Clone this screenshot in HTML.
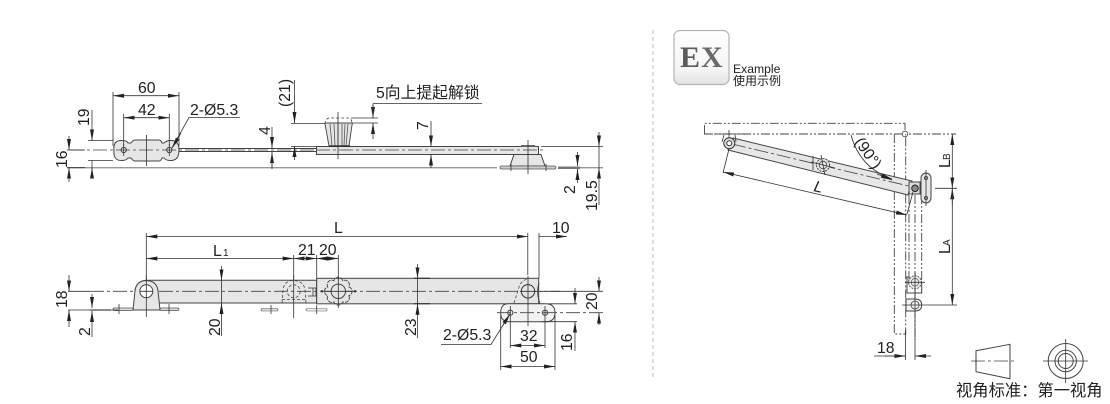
<!DOCTYPE html>
<html><head><meta charset="utf-8">
<style>
html,body{margin:0;padding:0;background:#fff;width:1110px;height:404px;overflow:hidden}
svg{display:block}
text{font-family:"Liberation Sans","Noto Sans CJK SC",sans-serif;fill:#222;font-size:15.8px}
.s{font-size:10px}
.d{stroke:#333;stroke-width:.8;fill:none}
.o{stroke:#444;stroke-width:1;fill:none}
.b{stroke:#444;stroke-width:1;fill:#e6e6e6}
.c{stroke:#444;stroke-width:.8;fill:none;stroke-dasharray:14 3 3 3}
.h{stroke:#444;stroke-width:.8;fill:none;stroke-dasharray:3 2}
.p{stroke:#444;stroke-width:.9;fill:none;stroke-dasharray:9 2 2 2 2 2}
.g{stroke:#999;stroke-width:1.4;fill:none}
.a{stroke:#333;stroke-width:.8;fill:none;marker-end:url(#m)}
.aa{stroke:#333;stroke-width:.8;fill:none;marker-start:url(#m);marker-end:url(#m)}
</style></head><body>
<svg width="1110" height="404" viewBox="0 0 1110 404" xmlns="http://www.w3.org/2000/svg">
<defs>
<marker id="m" markerUnits="userSpaceOnUse" markerWidth="12" markerHeight="6" refX="11" refY="2.5" orient="auto-start-reverse"><path d="M0,.5 L11,2.5 L0,4.500z" fill="#222"/></marker>
<linearGradient id="ex" x1="0" y1="0" x2="0" y2="1"><stop offset="0" stop-color="#fff"/><stop offset=".75" stop-color="#f4f4f4"/><stop offset="1" stop-color="#e2e2e2"/></linearGradient>
<clipPath id="exc"><rect x="675" y="31" width="53" height="53" rx="6"/></clipPath>
</defs>

<!-- ===== TOP VIEW ===== -->
<path class="g" d="M67 167.700H497M500 167.700H556M558 167.700H603"/>
<path d="M179 148.500H316M179 151.500H316" class="o"/>
<path d="M114 150 Q113 140 122 140.500 Q127 140.500 128 143 H131 Q133 140 135 140 H159 Q161 140 162 143 H164 Q167 140.500 170 140.500 Q179 140 179 150 Q179 161 170 160.500 Q166 160.500 164 158 H162 Q161 161 159 161 H135 Q133 161 131 158 H128 Q126 160.500 122 160.500 Q113 161 114 150z" class="b"/>
<circle cx="123.700" cy="150" r="2.600" class="o"/><circle cx="169.300" cy="150" r="2.600" class="o"/>
<path class="c" d="M70 150H318"/>
<path class="d" d="M123.700 144V156M169.300 144V156M146.500 135V166"/>
<!-- dims 60 42 -->
<path class="d" d="M113 92V146M179 92V146M123.700 114V146M169.300 114V146"/>
<path class="aa" d="M113 95.700H179"/><path class="aa" d="M123.700 117.700H169.300"/>
<text x="138" y="93">60</text><text x="138" y="115">42</text>
<text x="190" y="115">2-Ø5.3</text>
<path class="d" d="M240 117.500H189L172 148"/><path class="a" d="M181 133L172 148"/>
<!-- 19, 16 -->
<path class="d" d="M88 140.500H113M88 160.500H113M67 150H85M67 167.700H85"/>
<path class="a" d="M92 110V140.500"/><path class="d" d="M92 160.500V174"/><path class="a" d="M92 178V167.700"/>
<path class="a" d="M69 136V150"/><path class="a" d="M69 182V167.700"/>
<text transform="translate(89 126) rotate(-90)">19</text>
<text transform="translate(67 168) rotate(-90)">16</text>
<!-- 4, (21) -->
<path class="a" d="M272 127V148"/><path class="a" d="M272 169V152"/><path class="d" d="M272 152V168"/>
<text transform="translate(270 135) rotate(-90)">4</text>
<path class="a" d="M294.500 80V123"/><path class="a" d="M294.500 160V146"/>
<path class="d" d="M291 123.500H325M291 146.500H316"/>
<text transform="translate(290 107) rotate(-90)">(21)</text>
<!-- bar -->
<rect x="316.500" y="146.500" width="222" height="8" class="b"/>
<path class="c" d="M316 150H546"/>
<!-- knob -->
<path d="M325 124Q325 123 327 123H351Q353 123 352 125L349 146H329z" fill="#e4e4e4" stroke="#444" stroke-width=".9"/>
<path d="M330 124L332 146M334 124L335 146M338 124V146M342 124V146M345 124L344 146M348 124L346 146" stroke="#555" stroke-width=".8"/>
<path d="M329 146H350" stroke="#222" stroke-width="1.200"/>
<path class="h" d="M325 124Q325 118 330 118H348Q352 118 352 124"/>
<path class="d" d="M338 112V159"/>
<path class="d" d="M351 118H378M351 123H378"/>
<path class="a" d="M373 105V118"/><path class="a" d="M373 139V123"/>
<path class="d" d="M373 103.500H482M373 103.500V118"/>
<text x="376" y="98">5向上提起解锁</text>
<!-- 7 -->
<path class="a" d="M431 121V146.500"/><path class="a" d="M431 168V154.500"/>
<text transform="translate(428 130) rotate(-90)">7</text>
<!-- bracket -->
<path d="M514 154.500H541L545 166H510z" class="b"/>
<rect x="500" y="166" width="56" height="3" rx="1.500" fill="#ccc" stroke="#555" stroke-width=".7"/>
<rect x="521" y="145" width="14" height="2" fill="#666"/>
<path class="d" d="M528 140V174M511 164V171M546 164V171"/>
<rect x="558" y="166.500" width="22" height="2.500" fill="#777"/>
<!-- 2, 19.5 -->
<path class="a" d="M577.500 152V166"/><path class="a" d="M577.500 183V169"/>
<text transform="translate(575 194) rotate(-90)">2</text>
<path class="d" d="M541 146.500H603"/>
<path class="a" d="M599 132V146.500"/><path class="d" d="M599 146.500V168"/><path class="a" d="M599 205V167.700"/>
<text transform="translate(597 211) rotate(-90)">19.5</text>

<!-- ===== BOTTOM VIEW ===== -->
<path class="d" d="M146.300 233V280M293.700 255V282M316.700 255V278M338.300 255V282M527.800 233V275M539 233V278"/>
<path class="aa" d="M146.300 236.500H527.800"/><path class="a" d="M539 236.500H567"/>
<text x="334" y="233">L</text><text x="552" y="233">10</text>
<path class="aa" d="M146.300 258.500H293.700"/>
<text x="213" y="256">L</text><text x="223" y="256" class="s" style="font-size:10px">1</text>
<path class="a" d="M313 258.500H293.700"/><path class="a" d="M298 258.500H316.700"/>
<text x="298" y="255">21</text><text x="319" y="255">20</text>
<path class="aa" d="M316.700 258.500H338.300"/>
<!-- bars -->
<path d="M150 280.300H316.700V303H135V290Q137 281 146 280.300z" fill="#e6e6e6" stroke="#444"/>
<rect x="316.700" y="278.300" width="222" height="25.500" class="b"/>
<path class="c" d="M90 291.300H560"/>
<!-- left bracket -->
<rect x="113" y="308" width="20" height="2.600" rx="1.300" fill="#ddd" stroke="#555" stroke-width=".7"/>
<rect x="160" y="308" width="19" height="2.600" rx="1.300" fill="#ddd" stroke="#555" stroke-width=".7"/>
<path d="M133 310L135 291Q136 281 146.300 280.500Q157 281 158 291L160 310z" class="b"/>
<circle cx="146.300" cy="291.300" r="6.500" fill="#fff" stroke="#444" stroke-width="1"/>
<path class="d" d="M146.300 275V317M140 291.300H153M119 304V314M169 304V314"/>
<path class="g" d="M90 310H111"/>
<path class="d" d="M68 291.300H90M68 310H118"/>
<!-- 18 / 2 -->
<path class="a" d="M69 275V291.300"/><path class="a" d="M69 327V310"/>
<text transform="translate(67 308) rotate(-90)">18</text>
<path class="a" d="M92 294V308"/><path class="a" d="M92 337V311"/>
<text transform="translate(90 336) rotate(-90)">2</text>
<!-- 20 -->
<path class="a" d="M221.500 266V280.300"/><path class="a" d="M221.500 336V303"/>
<text transform="translate(220 336) rotate(-90)">20</text>
<path class="d" d="M221.500 280V303"/>
<!-- hidden pivot -->
<path class="h" d="M282 303L283 290Q284 280.500 293.700 280.500Q304 281 305 290L306 303M282 299.500H306"/>
<circle cx="293.700" cy="291.300" r="6.500" class="h"/>
<path class="d" d="M293.700 275V318M313 288V296M316 288V296M308 288H316M308 296H316"/>
<rect x="261" y="308.500" width="17" height="2.500" rx="1.200" fill="#ddd" stroke="#555" stroke-width=".6"/>
<rect x="306" y="308.500" width="21" height="2.500" rx="1.200" fill="#eee" stroke="#666" stroke-width=".6"/>
<path class="d" d="M271 305V314M316.700 305V314"/>
<!-- knob circle -->
<path d="M348.900 295.700A4.600 4.600 0 0 1 342.700 301.900A4.600 4.600 0 0 1 333.900 301.900A4.600 4.600 0 0 1 327.700 295.700A4.600 4.600 0 0 1 327.700 286.900A4.600 4.600 0 0 1 333.900 280.700A4.600 4.600 0 0 1 342.700 280.700A4.600 4.600 0 0 1 348.900 286.900A4.600 4.600 0 0 1 348.900 295.700z" fill="none" stroke="#444" stroke-width=".9" stroke-dasharray="4 1"/>
<circle cx="338.300" cy="291.300" r="7.200" fill="#e6e6e6" stroke="#444"/>
<path class="d" d="M338.300 276V308M324 291.300H352"/>
<circle cx="322" cy="291.300" r="1.200" fill="#333"/><circle cx="355" cy="291.300" r="1.200" fill="#333"/>
<!-- 23 -->
<path class="a" d="M417.500 264V278.300"/><path class="a" d="M417.500 338V303.800"/><path class="d" d="M417.500 278V304"/>
<path d="M414 278.300H430M414 303.800H430" stroke="#222" stroke-width="1"/>
<text transform="translate(416 336) rotate(-90)">23</text>
<!-- right bracket -->
<path class="h" d="M514 303L519 287Q522 279 528 279.500"/>
<path d="M539 283Q536 292 540 303.800" class="o"/>
<path d="M508 303.800H546Q555 304 555 312.700Q555 321.700 546 321.700H509Q500.700 321.700 500.700 312.700Q500.700 304 508 303.800z" fill="#f2f2f2" stroke="#444"/>
<circle cx="528" cy="291.300" r="6.700" fill="#e6e6e6" stroke="#333" stroke-width="1"/>
<path class="d" d="M528 276V326M520 291.300H536"/>
<circle cx="510.300" cy="312.700" r="2.600" class="o"/><circle cx="545" cy="312.700" r="2.600" class="o"/>
<path class="c" d="M497 312.700H603"/>
<path class="d" d="M510.300 306V348M545 306V348M500.700 315V370M555 315V370M548 303.800H577M542 321.700H577"/>
<path class="aa" d="M510.300 345.500H545"/><path class="aa" d="M500.700 366.500H555"/>
<text x="520" y="341">32</text><text x="520" y="362">50</text>
<text x="443" y="340">2-Ø5.3</text>
<path class="d" d="M441 344.500H491L510 314"/><path class="a" d="M503 325L510 314"/>
<path class="a" d="M575 288V303.800"/>
<path class="a" d="M575 351V321.700"/>
<text transform="translate(572 351) rotate(-90)">16</text>
<path class="a" d="M599 277V291.300"/><path class="a" d="M599 325V312.700"/>
<path class="d" d="M540 291.300H603"/>
<text transform="translate(597 310) rotate(-90)">20</text>

<!-- ===== DIVIDER ===== -->
<path d="M653 30V378" stroke="#bbb" stroke-width="1" stroke-dasharray="4 3"/>

<!-- ===== EX ICON ===== -->
<rect x="674" y="30.500" width="55" height="54" rx="6" fill="url(#ex)" stroke="#b4b4b4" stroke-width="1.200"/>
<g clip-path="url(#exc)">
<text transform="translate(680 87) scale(1 -1)" style="font-family:'Liberation Serif',serif;font-size:30px;font-weight:bold;fill:#ccc;opacity:.45">E</text>
<text transform="translate(701 87) scale(1 -1)" style="font-family:'Liberation Serif',serif;font-size:30px;font-weight:bold;fill:#ccc;opacity:.45">X</text>
</g>
<text x="680" y="67" style="font-family:'Liberation Serif',serif;font-size:30px;font-weight:bold;fill:#5c5c5c">E</text>
<text x="701" y="67" style="font-family:'Liberation Serif',serif;font-size:30px;font-weight:bold;fill:#6a6a6a">X</text>
<text x="733" y="73" style="font-size:12.200px">Example</text>
<text x="733" y="85" style="font-size:12px">使用示例</text>

<!-- ===== RIGHT DIAGRAM ===== -->
<path class="p" d="M704.500 134V123.300H905V134"/>
<path class="p" d="M704 134H956"/>
<circle cx="905" cy="134" r="2.800" fill="#fff" stroke="#444" stroke-width=".8"/>
<path class="p" d="M894.300 134V334H905.700V134"/>
<path class="p" d="M909 195V282M921.700 195V282M915 195V340"/>
<!-- arm -->
<path d="M733 138L912 181L908 195L728 150z" class="b"/>
<path class="c" d="M732 144L913 187"/>
<path d="M724 135L722 142M735 135L736 142" class="d"/>
<path class="d" d="M714 134H745M729 130V148"/>
<circle cx="729.300" cy="143.300" r="5.500" fill="#ddd" stroke="#333"/><circle cx="729.300" cy="143.300" r="2.500" fill="#fff" stroke="#333"/>
<circle cx="823" cy="165" r="6.500" fill="#e6e6e6" stroke="#444" stroke-dasharray="2 1"/><circle cx="823" cy="165" r="3.800" fill="none" stroke="#444" stroke-width=".8"/>
<path class="d" d="M811 162L835 168M821 155L825 175M813 156V170"/>
<!-- plate -->
<rect x="921" y="173" width="10" height="30" rx="5" class="b"/>
<circle cx="926" cy="178" r="1.500" class="o"/><circle cx="926" cy="198" r="1.500" class="o"/>
<path class="d" d="M926 170V206"/>
<path d="M909 182H920V194H909z" fill="#ddd" stroke="#444"/>
<circle cx="915" cy="188.300" r="3.300" fill="#888" stroke="#222"/>
<path class="d" d="M935 188.300H957"/>
<!-- L dim -->
<path class="d" d="M723 173L729 149M907 214L913 192"/>
<path class="aa" d="M723 172L907 215"/>
<text transform="translate(813 191) rotate(13)" style="font-style:italic">L</text>
<!-- 90 -->
<path class="a" d="M851 135Q860 168 892 179"/><path class="a" d="M877 174L892 180"/>
<text transform="translate(854 142) rotate(55)">(90°)</text>
<!-- LB / LA -->
<path class="a" d="M952.300 160V134"/><path class="a" d="M952.300 160V188.300"/><path class="a" d="M952.300 205V188.300"/>
<text transform="translate(950 168) rotate(-90)">L</text><text transform="translate(950 160) rotate(-90)" style="font-size:10px">B</text>
<path class="a" d="M952.300 250V305"/><path class="d" d="M952.300 188V250"/>
<text transform="translate(950 254) rotate(-90)">L</text><text transform="translate(950 246) rotate(-90)" style="font-size:10px">A</text>
<!-- lower pivots -->
<circle cx="915" cy="282.300" r="6.500" fill="#eee" stroke="#555" stroke-dasharray="2 1"/><circle cx="915" cy="282.300" r="3.800" fill="none" stroke="#555" stroke-width=".7"/>
<path class="d" d="M905 282.300H925M915 272V292"/>
<path d="M906 277H909M921.700 282V293H907V277" class="o"/>
<path d="M906 299H915Q921.700 299 921.700 305Q921.700 311 915 311H906z" fill="#f4f4f4" stroke="#444"/>
<circle cx="915" cy="305" r="4" fill="none" stroke="#444" stroke-width=".8"/>
<path class="d" d="M902 305H925M915 293V318"/>
<path class="d" d="M925 305H957"/>
<!-- 18 -->
<path class="d" d="M905.500 330V360M915 318V360"/>
<path class="d" d="M874 356H905.500"/><path class="a" d="M885 356H905.500"/><path class="a" d="M931 356H915"/>
<text x="877" y="353">18</text>

<!-- ===== PROJECTION SYMBOL ===== -->
<path class="o" d="M976 350.700L1010 344.300V378.700L976 371.700z"/>
<path class="c" d="M971 361H1015"/><path class="d" d="M976 357V365"/>
<circle cx="1065.700" cy="361" r="17.500" class="o"/><circle cx="1065.700" cy="361" r="10.700" class="o"/><circle cx="1065.700" cy="361" r="7.500" class="o"/>
<path class="d" d="M1043 361H1088M1065.700 339V383"/>
<text x="956" y="396" style="font-size:16.300px">视角标准：第一视角</text>
</svg>
</body></html>
